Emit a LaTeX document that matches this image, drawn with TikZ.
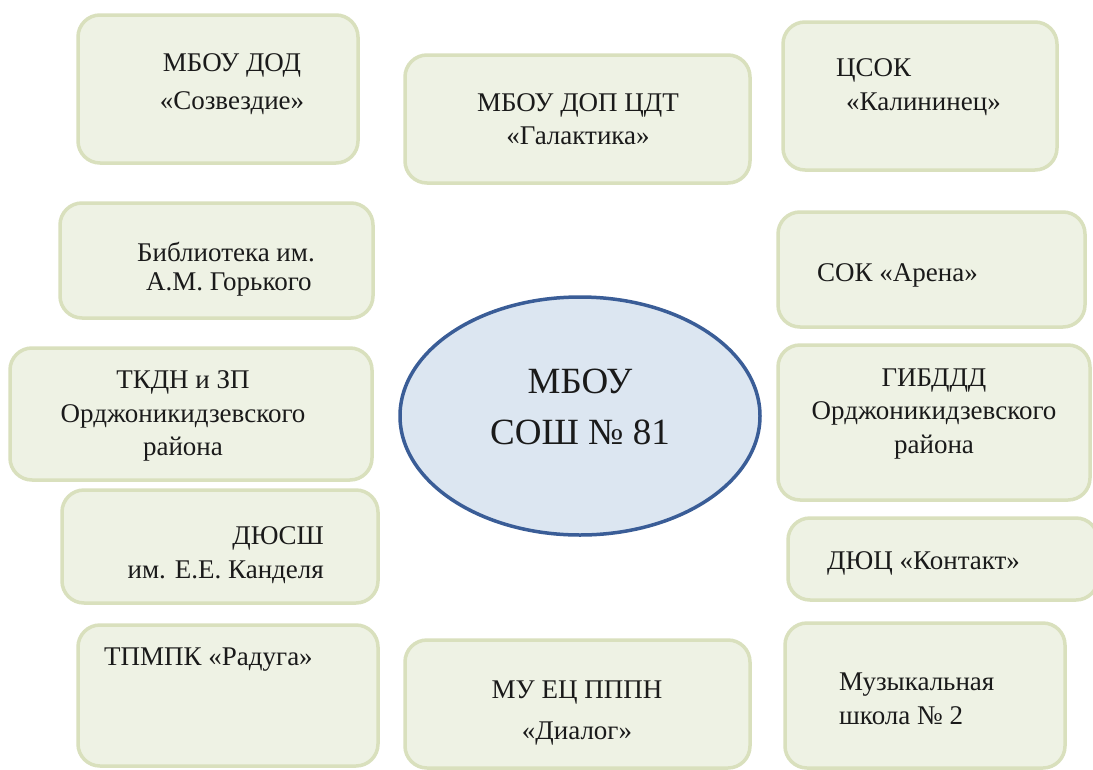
\documentclass[tikz,border=0pt]{standalone}
\usepackage{fontspec}
\setmainfont{Liberation Serif}
\definecolor{boxfill}{HTML}{EEF2E4}
\definecolor{boxline}{HTML}{D9E0BD}
\definecolor{ellfill}{HTML}{DCE6F1}
\definecolor{ellline}{HTML}{3A5D97}
\definecolor{txt}{HTML}{1A1A1A}
\begin{document}
\begin{tikzpicture}[x=1pt,y=-1pt,
  orgbox/.style={draw=boxline, fill=boxfill, line width=3.5pt, rounded corners=22pt,
    inner sep=0pt, outer sep=0pt},
  orgtext/.style={text=txt, inner sep=0pt, font=\fontsize{27}{33.5}\selectfont},
  centext/.style={text=txt, inner sep=0pt, font=\fontsize{37}{51}\selectfont}]
\useasboundingbox[fill=white] (0,0) rectangle (1093,769);
% boxes
\node[orgbox, minimum width=280pt, minimum height=148pt] (b1) at (218,89) {};
\node[orgbox, minimum width=345pt, minimum height=128pt] (b2) at (577.5,119) {};
\node[orgbox, minimum width=274pt, minimum height=148pt] (b3) at (920,96) {};
\node[orgbox, minimum width=313pt, minimum height=115pt] (b4) at (216.5,260.5) {};
\node[orgbox, minimum width=307pt, minimum height=115pt] (b5) at (931.5,269.5) {};
\node[orgbox, minimum width=362pt, minimum height=132pt] (b6) at (191,414) {};
\node[orgbox, minimum width=312pt, minimum height=155pt] (b7) at (934,422.5) {};
\node[orgbox, minimum width=316pt, minimum height=113pt] (b8) at (220,546.5) {};
\node[orgbox, minimum width=310pt, minimum height=82pt] (b9) at (943,559) {};
\node[orgbox, minimum width=300pt, minimum height=141pt] (b10) at (228,695.5) {};
\node[orgbox, minimum width=345pt, minimum height=128pt] (b11) at (577.5,704) {};
\node[orgbox, minimum width=280pt, minimum height=145pt] (b12) at (925,695.5) {};
% central ellipse
\draw[draw=ellline, fill=ellfill, line width=3.5pt] (580,416) ellipse [x radius=180, y radius=119];
\node[centext, align=center] (c) at (580,407) {МБОУ\\СОШ № 81};
% texts
\node[orgtext, align=center] (t1) at (232,84) {МБОУ ДОД\\[5pt]«Созвездие»};
\node[orgtext, align=center] (t2) at (578,119) {МБОУ ДОП ЦДТ\\«Галактика»};
\node[orgtext, anchor=west] (t3a) at (836,70) {ЦСОК};
\node[orgtext, anchor=west] (t3b) at (846,104) {«Калининец»};
\node[orgtext, anchor=west] (t4a) at (137,252) {Библиотека им.};
\node[orgtext, anchor=west] (t4b) at (146,284) {А.М. Горького};
\node[orgtext, anchor=west] (t5) at (817,275) {СОК «Арена»};
\node[orgtext, align=center] (t6) at (183,416) {ТКДН и ЗП\\Орджоникидзевского\\района};
\node[orgtext, align=center] (t7) at (934,414) {ГИБДДД\\Орджоникидзевского\\района};
\node[orgtext, align=right, anchor=east] (t8) at (324,555) {ДЮСШ\\им. Е.Е. Канделя};
\node[orgtext, anchor=west] (t9) at (827,563) {ДЮЦ «Контакт»};
\node[orgtext, anchor=west] (t10) at (104,660) {ТПМПК «Радуга»};
\node[orgtext, align=center] (t11) at (577,713) {МУ ЕЦ ПППН\\[8pt]«Диалог»};
\node[orgtext, align=left, anchor=west] (t12) at (839,699) {Музыкальная\\школа № 2};
\end{tikzpicture}
\end{document}
